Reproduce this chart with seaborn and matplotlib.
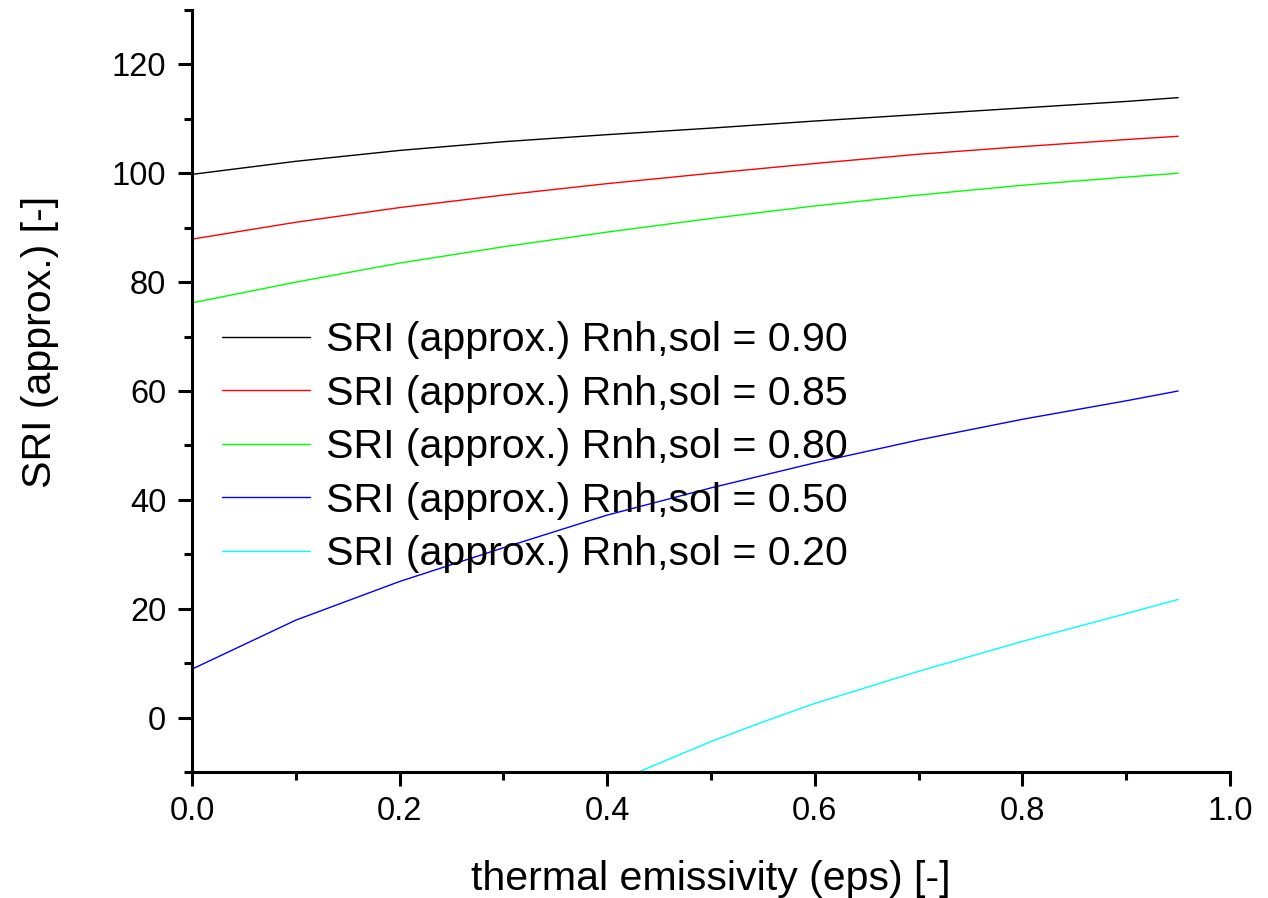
import numpy as np
import pandas as pd
import matplotlib
matplotlib.use("Agg")
import matplotlib.pyplot as plt
import seaborn as sns
from matplotlib.ticker import MultipleLocator

# ---- data ----
eps_main = [0.0, 0.1, 0.2, 0.3, 0.4, 0.5, 0.6, 0.7, 0.8, 0.9, 0.95]
sri_090 = [99.8, 102.2, 104.2, 105.8, 107.1, 108.3, 109.6, 110.8, 112.0, 113.2, 113.9]
sri_085 = [87.9, 91.0, 93.7, 96.0, 98.1, 100.0, 101.8, 103.5, 104.9, 106.2, 106.8]
sri_080 = [76.2, 80.0, 83.5, 86.5, 89.2, 91.7, 94.0, 96.0, 97.8, 99.3, 100.0]
sri_050 = [8.9, 17.9, 25.0, 31.2, 37.2, 42.2, 46.8, 51.0, 54.8, 58.2, 60.0]
eps_020 = [0.43, 0.5, 0.55, 0.6, 0.7, 0.8, 0.9, 0.95]
sri_020 = [-10.0, -4.4, -0.8, 2.6, 8.5, 14.0, 19.1, 21.7]

labels = ["SRI (approx.) Rnh,sol = 0.90",
          "SRI (approx.) Rnh,sol = 0.85",
          "SRI (approx.) Rnh,sol = 0.80",
          "SRI (approx.) Rnh,sol = 0.50",
          "SRI (approx.) Rnh,sol = 0.20"]
colors = ["#000000", "#FF0000", "#00FF00", "#0000FF", "#00FFFF"]

frames = []
for lab, xs, ys in zip(labels,
                       [eps_main, eps_main, eps_main, eps_main, eps_020],
                       [sri_090, sri_085, sri_080, sri_050, sri_020]):
    frames.append(pd.DataFrame({"eps": xs, "sri": ys, "series": lab}))
df = pd.concat(frames, ignore_index=True)

sns.set_theme(style="ticks")
plt.rcParams["font.family"] = ["Liberation Sans", "DejaVu Sans"]
plt.rcParams["text.color"] = "black"
plt.rcParams["axes.labelcolor"] = "black"

fig = plt.figure(figsize=(12.68, 8.98), dpi=100)
ax = fig.add_axes([192 / 1268, 1 - 772 / 898, (1230 - 192) / 1268, (772 - 10) / 898])

sns.lineplot(data=df, x="eps", y="sri", hue="series", hue_order=labels,
             palette=colors, linewidth=1.0, ax=ax, sort=False, estimator=None)

ax.set_xlim(0, 1.0)
ax.set_ylim(-10, 130)
ax.xaxis.set_minor_locator(MultipleLocator(0.1))
ax.yaxis.set_minor_locator(MultipleLocator(10))
ax.set_xticks([0.0, 0.2, 0.4, 0.6, 0.8, 1.0])
ax.set_xticklabels(["0.0", "0.2", "0.4", "0.6", "0.8", "1.0"])
ax.set_yticks([0, 20, 40, 60, 80, 100, 120])

for s in ["top", "right"]:
    ax.spines[s].set_visible(False)
for s in ["left", "bottom"]:
    ax.spines[s].set_linewidth(2.2)
    ax.spines[s].set_color("black")

ax.tick_params(axis="both", which="major", direction="out", length=10, width=2.2,
               colors="black", labelsize=23.5)
ax.tick_params(axis="both", which="minor", direction="out", length=5.5, width=2.2,
               colors="black")
ax.tick_params(axis="y", which="major", pad=8.5)
ax.tick_params(axis="x", which="major", pad=7)

ax.set_xlabel("thermal emissivity (eps) [-]", fontsize=29.6, color="black")
ax.set_ylabel("SRI (approx.) [-]", fontsize=29.6, color="black")
ax.xaxis.set_label_coords(0.5, -0.116)
ax.yaxis.set_label_coords(-0.128, 0.565)

leg = ax.legend(loc="upper left", bbox_to_anchor=((222 - 192) / 1038, (772 - 321) / 762),
                frameon=False, fontsize=29.6, handlelength=2.14, handletextpad=0.39,
                labelspacing=0.38, borderpad=0, borderaxespad=0)
for txt in leg.get_texts():
    txt.set_color("black")
for line in leg.get_lines():
    line.set_linewidth(1.0)

fig.savefig("out.png", dpi=100, facecolor="white")
